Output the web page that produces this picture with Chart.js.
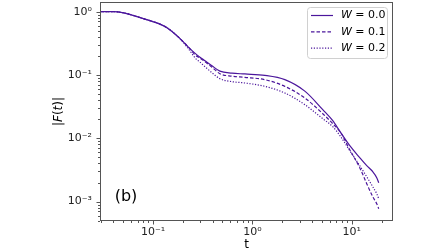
<!DOCTYPE html>
<html>
<head>
<meta charset="utf-8">
<script src="https://cdn.jsdelivr.net/npm/chart.js@4.4.1/dist/chart.umd.min.js"></script>
<style>
  html, body { margin: 0; padding: 0; background: #fff; }
  #wrap { width: 448px; height: 252px; }
</style>
</head>
<body>
<div id="wrap"><canvas id="chart" width="448" height="252"></canvas></div>
<script>
// values (t, |F(t)| for each W)
const t = [0.0293, 0.04, 0.08, 0.138, 0.187, 0.235, 0.264, 0.297, 0.333, 0.392, 0.471, 0.622, 0.841,
  1.336, 2.122, 3.37, 5.11, 6.44, 7.75, 9.55, 12.03, 14.15, 16.26, 17.84, 18.68];
const w00 = [1.0, 1.0, 0.775, 0.559, 0.3745, 0.260, 0.221, 0.191, 0.168, 0.140, 0.1148, 0.1067, 0.1037,
  0.0986, 0.0843, 0.0555, 0.0283, 0.01897, 0.01226, 0.00764, 0.00494, 0.00369, 0.00297, 0.00239, 0.00199];
const w01 = [1.0, 1.0, 0.775, 0.559, 0.3745, 0.260, 0.209, 0.184, 0.162, 0.1328, 0.1048, 0.0957, 0.0917,
  0.0843, 0.0661, 0.0433, 0.02446, 0.0170, 0.01226, 0.0066, 0.00343, 0.00192, 0.001195, 0.000926, 0.000772];
const w02 = [1.0, 1.0, 0.775, 0.559, 0.3745, 0.242, 0.1876, 0.1593, 0.1353, 0.1087, 0.0874, 0.0784, 0.0747,
  0.0661, 0.0519, 0.034, 0.0204, 0.01525, 0.0106, 0.00637, 0.00369, 0.00247, 0.00172, 0.00133, 0.00111];
const wLabels = ['0.0', '0.1', '0.2'];

const xTicks = [0.1, 1, 10];
const xTickLabels = ['10⁻¹', '10⁰', '10¹'];
const yTicks = [0.001, 0.01, 0.1, 1];
const yTickLabels = ['10⁻³', '10⁻²', '10⁻¹', '10⁰'];

const LINE = '#4b169c';
const AXIS = '#555';
const FONT = '"DejaVu Sans", sans-serif';

function toPoints(ys) {
  return t.map((v, i) => ({ x: v, y: ys[i] }));
}

const dashes = [[], [3.5, 2], [1.2, 1.6]];
const datasets = [w00, w01, w02].map((ys, i) => ({
  label: 'W = ' + wLabels[i],
  data: toPoints(ys),
  borderColor: LINE,
  borderWidth: 1.2,
  borderDash: dashes[i],
  pointRadius: 0,
  fill: false,
  cubicInterpolationMode: 'monotone'
}));

function minorTicks(scale) {
  const out = [];
  const lo = Math.floor(Math.log10(scale.min));
  const hi = Math.ceil(Math.log10(scale.max));
  for (let n = lo; n <= hi; n++) {
    for (let k = 2; k <= 9; k++) {
      const v = k * Math.pow(10, n);
      if (v > scale.min && v < scale.max) out.push(v);
    }
  }
  return out;
}

const decorations = {
  id: 'decorations',
  afterDatasetsDraw(chart) {
    const { ctx, chartArea: a, scales: { x, y } } = chart;
    ctx.save();

    // frame
    ctx.strokeStyle = AXIS;
    ctx.lineWidth = 1;
    ctx.strokeRect(a.left + 0.5, a.top + 0.5, a.right - a.left - 1, a.bottom - a.top - 1);

    // tick marks
    ctx.beginPath();
    xTicks.forEach(v => {
      const px = Math.round(x.getPixelForValue(v)) + 0.5;
      ctx.moveTo(px, a.bottom); ctx.lineTo(px, a.bottom + 3.5);
    });
    minorTicks(x).forEach(v => {
      const px = Math.round(x.getPixelForValue(v)) + 0.5;
      ctx.moveTo(px, a.bottom); ctx.lineTo(px, a.bottom + 2);
    });
    yTicks.forEach(v => {
      const py = Math.round(y.getPixelForValue(v)) + 0.5;
      ctx.moveTo(a.left, py); ctx.lineTo(a.left - 3.5, py);
    });
    minorTicks(y).forEach(v => {
      const py = Math.round(y.getPixelForValue(v)) + 0.5;
      ctx.moveTo(a.left, py); ctx.lineTo(a.left - 2, py);
    });
    ctx.stroke();

    // panel tag
    ctx.fillStyle = '#000';
    ctx.textAlign = 'center';
    ctx.textBaseline = 'middle';
    ctx.font = '16px ' + FONT;
    ctx.fillText('(b)', a.left + 26, a.bottom - 24);

    // x title
    ctx.font = '12px ' + FONT;
    ctx.fillText('t', (a.left + a.right) / 2, 245);

    // y title |F(t)| with italic F and t
    const parts = [['|', false], ['F', true], ['(', false], ['t', true], [')', false], ['|', false]];
    ctx.translate(59, (a.top + a.bottom) / 2);
    ctx.rotate(-Math.PI / 2);
    const widths = parts.map(([s, it]) => {
      ctx.font = (it ? 'italic ' : '') + '12px ' + FONT;
      return ctx.measureText(s).width;
    });
    let cx = -widths.reduce((p, q) => p + q, 0) / 2;
    ctx.textAlign = 'left';
    parts.forEach(([s, it], i) => {
      ctx.font = (it ? 'italic ' : '') + '12px ' + FONT;
      ctx.fillText(s, cx, 0);
      cx += widths[i];
    });
    ctx.restore();

    // legend
    ctx.save();
    const bx = a.right - 86, by = a.top + 5, bw = 80, bh = 51;
    ctx.beginPath();
    ctx.roundRect(bx + 0.5, by + 0.5, bw, bh, 3);
    ctx.fillStyle = 'rgba(255,255,255,0.85)';
    ctx.fill();
    ctx.strokeStyle = '#d0d0d0';
    ctx.lineWidth = 1;
    ctx.stroke();
    chart.data.datasets.forEach((ds, i) => {
      const ry = by + 8.5 + i * 16.3;
      ctx.beginPath();
      ctx.strokeStyle = ds.borderColor;
      ctx.lineWidth = ds.borderWidth;
      ctx.setLineDash(ds.borderDash);
      ctx.moveTo(bx + 4, ry); ctx.lineTo(bx + 26, ry);
      ctx.stroke();
      ctx.setLineDash([]);
      ctx.fillStyle = '#000';
      ctx.textBaseline = 'middle';
      ctx.textAlign = 'left';
      ctx.font = 'italic 11px ' + FONT;
      ctx.fillText('W', bx + 34, ry);
      const ww = ctx.measureText('W').width;
      ctx.font = '11px ' + FONT;
      ctx.fillText(' = ' + wLabels[i], bx + 34 + ww, ry);
    });
    ctx.restore();
  }
};

new Chart(document.getElementById('chart'), {
  type: 'line',
  data: { datasets },
  options: {
    responsive: false,
    animation: false,
    devicePixelRatio: 1,
    layout: { padding: { left: 0, top: 2, right: 55, bottom: 0 } },
    plugins: { legend: { display: false }, tooltip: { enabled: false } },
    scales: {
      x: {
        type: 'logarithmic',
        min: 0.0293,
        max: 26,
        afterFit: s => { s.height = 31; s.paddingLeft = 0; s.paddingRight = 0; },
        afterBuildTicks: s => { s.ticks = xTicks.map(v => ({ value: v })); },
        grid: { display: false, drawTicks: false },
        border: { display: false },
        ticks: {
          autoSkip: false,
          maxRotation: 0,
          padding: 5,
          color: '#222',
          font: { family: 'DejaVu Sans', size: 11 },
          callback: (v, i) => xTickLabels[i]
        }
      },
      y: {
        type: 'logarithmic',
        min: 0.000494,
        max: 1.42,
        afterFit: s => { s.width = 100; s.paddingTop = 0; s.paddingBottom = 0; },
        afterBuildTicks: s => { s.ticks = yTicks.map(v => ({ value: v })); },
        grid: { display: false, drawTicks: false },
        border: { display: false },
        ticks: {
          autoSkip: false,
          padding: 8,
          color: '#222',
          font: { family: 'DejaVu Sans', size: 11 },
          callback: (v, i) => yTickLabels[i]
        }
      }
    }
  },
  plugins: [decorations]
});
</script>
</body>
</html>
